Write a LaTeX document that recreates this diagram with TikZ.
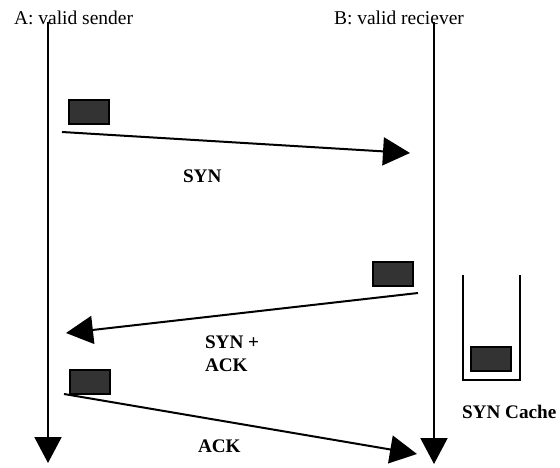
\documentclass[tikz,border=0pt]{standalone}
\usepackage{fontspec}
\setmainfont{Liberation Serif}
\usetikzlibrary{arrows.meta}
\definecolor{pktgray}{HTML}{333333}
\begin{document}
\begin{tikzpicture}[x=1pt,y=-1pt,line width=2pt,
  lifeline/.style={-{Triangle[length=26pt,width=27pt]}},
  msg/.style={-{Triangle[length=27pt,width=28pt]}},
  pkt/.style={draw=black,fill=pktgray,minimum width=40pt,minimum height=24pt,inner sep=0pt},
  lbl/.style={font=\fontsize{19.5}{23}\selectfont,inner sep=0pt,anchor=base west},
  blbl/.style={lbl,font=\fontsize{19.2}{23}\selectfont\bfseries}]
\useasboundingbox (0,0) rectangle (560,468);

% lifeline headers
\node[lbl] (hA) at (13,25) {A: valid sender};
\node[lbl] (hB) at (333,25) {B: valid reciever};

% lifelines
\coordinate (Atop) at (48,22);
\coordinate (Abot) at (48,463);
\coordinate (Btop) at (434,22);
\coordinate (Bbot) at (434,464);
\draw[lifeline] (Atop) -- (Abot);
\draw[lifeline] (Btop) -- (Bbot);

% SYN
\node[pkt] (p1) at (89,112.5) {};
\coordinate (s1) at (62,132);
\coordinate (t1) at (410,153);
\draw[msg] (s1) -- (t1);
\node[blbl] (lsyn) at (182,183) {SYN};

% SYN + ACK
\node[pkt] (p2) at (392.5,274) {};
\coordinate (s2) at (418,293);
\coordinate (t2) at (66,333);
\draw[msg] (s2) -- (t2);
\node[blbl] (lsynack1) at (204,348) {SYN +};
\node[blbl] (lsynack2) at (204,371) {ACK};

% ACK
\node[pkt] (p3) at (90,381.5) {};
\coordinate (s3) at (64,394);
\coordinate (t3) at (417,454);
\draw[msg] (s3) -- (t3);
\node[blbl] (lack) at (197,452) {ACK};

% SYN cache
\coordinate (c1) at (463,275);
\coordinate (c2) at (463,380);
\coordinate (c3) at (520,380);
\coordinate (c4) at (520,275);
\draw[line join=miter] (c1) -- (c2) -- (c3) -- (c4);
\node[pkt] (p4) at (491,359) {};
\node[blbl] (lcache) at (461,418) {SYN Cache};
\end{tikzpicture}
\end{document}
